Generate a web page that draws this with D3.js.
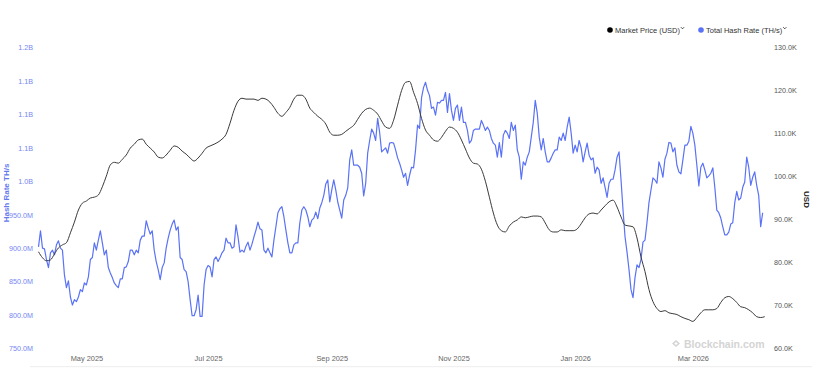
<!DOCTYPE html>
<html><head><meta charset="utf-8">
<script src="https://cdn.jsdelivr.net/npm/d3@7"></script>
<style>body{margin:0;background:#fff;} svg{display:block;font-family:"Liberation Sans",Arial,sans-serif;}</style>
</head><body><svg id="c" width="830" height="378"></svg>
<script>
// ---- data ----
const hashStart = "2025-04-07"; // daily values, millions of TH/s
const hashRate = [902,926,900,899,883,871,893,897,890,905,911,900,897,860,841,851,827,815,823,820,827,838,835,848,845,857,883,886,908,897,912,926,908,890,897,871,863,856,848,844,841,854,854,871,872,880,897,897,890,897,893,912,918,918,941,930,921,926,897,880,868,853,871,878,900,915,927,936,942,927,932,886,
883,868,865,850,823,799,799,808,830,798,798,845,868,874,872,857,883,887,880,886,893,897,915,908,908,900,902,935,917,894,897,894,903,909,897,906,917,927,939,929,927,897,893,900,893,887,912,932,953,959,962,947,927,908,893,893,905,908,908,938,957,962,957,947,932,942,945,954,944,960,968,979,996,1002,969,987,1002,987,969,957,945,972,979,990,1032,1047,1024,1024,1024,1021,1012,978,997,1042,1061,1078,1072,1061,1094,1073,1044,1047,1050,1042,1057,1058,1057,1047,1035,1027,1017,1006,1012,994,1009,1021,1020,1047,1084,1079,1125,1140,1148,1136,1128,1109,1111,1099,1118,1117,1121,1121,1133,1103,1131,1106,1091,1109,1114,1091,1111,1088,1088,1076,1057,1061,1076,1078,1078,1078,1091,1084,1076,1081,1076,1064,1057,1054,1036,1058,1036,1069,1076,1072,1064,1088,1076,1084,1047,1036,1003,1029,1024,1036,1044,1066,1088,1121,1102,1066,1047,1064,1044,1029,1029,1035,1042,1047,1047,1066,1061,1072,1061,1081,1096,1072,1042,1054,1044,1061,1050,1029,1044,1057,1039,1032,1035,1012,1021,1017,997,1005,991,976,997,1003,1003,1017,1036,1044,1002,957,917,894,868,838,826,856,875,871,883,909,912,938,968,987,1005,1002,997,1029,1020,1006,1033,1042,1058,1057,1044,1050,1024,1014,1011,1032,1054,1054,1060,1082,1072,1054,1024,993,1021,1027,1017,1005,1008,1012,1020,991,957,953,945,932,920,920,924,936,938,968,985,972,975,991,999,1036,1021,994,1006,1014,994,979,932,953];
const priceStart = "2025-04-07"; // one value every 2 days, thousands of USD
const priceStepDays = 2;
const marketPrice = [82.5,81.1,80.4,80.6,82.0,83.4,84.1,84.6,86.9,89.4,
92.2,93.8,94.3,95.0,95.2,95.7,97.6,100.1,102.7,103.3,
103.1,104.0,105.0,106.6,107.5,108.5,108.7,107.5,106.6,105.7,
104.5,104.3,105.0,106.1,107.1,106.8,105.9,105.2,104.3,103.6,
104.3,105.4,106.6,107.1,107.5,108.0,108.7,109.8,112.4,115.4,
117.5,118.2,118.0,118.0,118.0,117.7,118.2,118.0,117.3,116.1,
114.7,114.0,114.9,116.1,118.0,118.9,118.9,118.0,115.9,114.9,
114.0,113.3,112.2,110.3,109.6,109.6,109.8,110.5,111.2,111.9,
113.3,114.7,115.6,115.9,115.4,114.5,112.9,111.5,111.2,113.1,
116.6,120.0,121.9,122.1,119.6,117.0,113.5,110.8,109.6,108.5,
108.2,109.1,110.5,111.5,111.2,110.3,108.5,106.4,104.3,103.1,
102.9,101.7,98.9,95.2,91.5,88.7,87.4,87.1,88.5,89.4,
89.9,90.6,90.4,90.6,90.8,90.8,90.6,89.2,87.6,87.1,
87.1,87.6,87.4,87.4,87.4,87.8,89.0,90.4,91.3,91.5,
91.3,92.2,93.2,94.1,94.5,92.9,90.6,88.7,88.5,88.3,
85.7,81.3,77.9,73.7,70.9,69.3,68.6,68.8,68.3,68.1,
67.9,67.4,67.0,66.7,66.3,67.2,68.3,69.0,69.0,69.0,
69.3,70.7,71.8,72.1,71.6,70.7,69.7,69.5,69.0,68.3,
67.4,67.2,67.4];
const hashTicks = [750,800,850,900,950,1000,1050,1100,1150,1200];
const hashTickLabels = ["750.0M","800.0M","850.0M","900.0M","950.0M","1.0B","1.1B","1.1B","1.1B","1.2B"];
const priceTicks = [60,70,80,90,100,110,120,130];
const priceTickLabels = ["60.0K","70.0K","80.0K","90.0K","100.0K","110.0K","120.0K","130.0K"];
const monthTicks = ["2025-05-01","2025-07-01","2025-09-01","2025-11-01","2026-01-01","2026-03-01"];
const monthLabels = ["May 2025","Jul 2025","Sep 2025","Nov 2025","Jan 2026","Mar 2026"];
const legendLabels = ["Market Price (USD)","Total Hash Rate (TH/s)"];
const leftTitle = "Hash Rate TH/s";
const rightTitle = "USD";
const watermark = "Blockchain.com";

// ---- build ----
const parse = d3.utcParse("%Y-%m-%d");
const hashData = hashRate.map((v,i)=>({d:d3.utcDay.offset(parse(hashStart),i), v}));
const priceData = marketPrice.map((v,i)=>({d:d3.utcDay.offset(parse(priceStart),i*priceStepDays), v}));

const svg = d3.select("#c");
const x = d3.scaleUtc().domain([parse("2025-04-07"), parse("2026-04-07")]).range([38.5, 38.5+365*1.995]);
const yH = d3.scaleLinear().domain([750,1200]).range([348.5,47.5]);
const yP = d3.scaleLinear().domain([60,130]).range([348.5,47.5]);

const BLUE = "#5a72f6";
const FONT = '"Liberation Sans",Arial,sans-serif';

// baseline
svg.append("line").attr("x1",30).attr("x2",812).attr("y1",366.7).attr("y2",366.7)
  .attr("stroke","#ededed").attr("stroke-width",1);

// axes
const gl = svg.append("g").attr("transform","translate(33,0)")
  .call(d3.axisLeft(yH).tickValues(hashTicks).tickFormat((d,i)=>hashTickLabels[i]).tickSize(0).tickPadding(0));
gl.select(".domain").remove();
gl.selectAll("text").attr("fill","#7486f2").style("font-size","7.2px").style("font-family",FONT);

const gr = svg.append("g").attr("transform","translate(774,0)")
  .call(d3.axisRight(yP).tickValues(priceTicks).tickFormat((d,i)=>priceTickLabels[i]).tickSize(0).tickPadding(0));
gr.select(".domain").remove();
gr.selectAll("text").attr("fill","#555").style("font-size","7.2px").style("font-family",FONT);

const gb = svg.append("g").attr("transform","translate(0,355.8)")
  .call(d3.axisBottom(x).tickValues(monthTicks.map(parse)).tickFormat((d,i)=>monthLabels[i]).tickSize(0).tickPadding(0));
gb.select(".domain").remove();
gb.selectAll("text").attr("fill","#666").style("font-size","7.4px").style("font-family",FONT);

// axis titles
svg.append("text").attr("transform","translate(8.5,193) rotate(-90)").attr("text-anchor","middle")
  .attr("fill","#6478f0").style("font-size","8px").style("font-weight","bold").text(leftTitle);
svg.append("text").attr("transform","translate(806,199.5) rotate(90)").attr("text-anchor","middle")
  .attr("dominant-baseline","middle").attr("fill","#222").style("font-size","8px").style("font-weight","bold").text(rightTitle);

// watermark
const wm = svg.append("g").attr("fill","#d4d4d4");
wm.append("path").attr("d","M676,340 l4,3.5 l-4,3.5 l-4,-3.5 z M676,342 l1.8,1.5 l-1.8,1.5 l-1.8,-1.5 z").attr("fill-rule","evenodd");
wm.append("text").attr("x",684).attr("y",348).style("font-size","10.5px").style("font-weight","bold").text(watermark);

// lines
svg.append("path").datum(hashData).attr("fill","none").attr("stroke",BLUE).attr("stroke-width",1.2)
  .attr("stroke-linejoin","round")
  .attr("d", d3.line().x(d=>x(d.d)).y(d=>yH(d.v)));
svg.append("path").datum(priceData).attr("fill","none").attr("stroke","#3a3a3a").attr("stroke-width",1)
  .attr("d", d3.line().curve(d3.curveMonotoneX).x(d=>x(d.d)).y(d=>yP(d.v)));

// legend
const legendItems = [{label:legendLabels[0], color:"#000", cx:610},{label:legendLabels[1], color:BLUE, cx:701}];
legendItems.forEach(it=>{
  const g = svg.append("g");
  g.append("circle").attr("cx",it.cx).attr("cy",30).attr("r",2.8).attr("fill",it.color);
  const t = g.append("text").attr("x",it.cx+5).attr("y",32.7).attr("fill","#333").style("font-size","7.5px").text(it.label);
  const w = t.node().getComputedTextLength();
  const cx = it.cx+5+w+2.5;
  g.append("path").attr("d",`M${cx-1.6},27.2 L${cx},28.8 L${cx+1.6},27.2`).attr("fill","none").attr("stroke","#333").attr("stroke-width",0.9);
});
</script></body></html>
